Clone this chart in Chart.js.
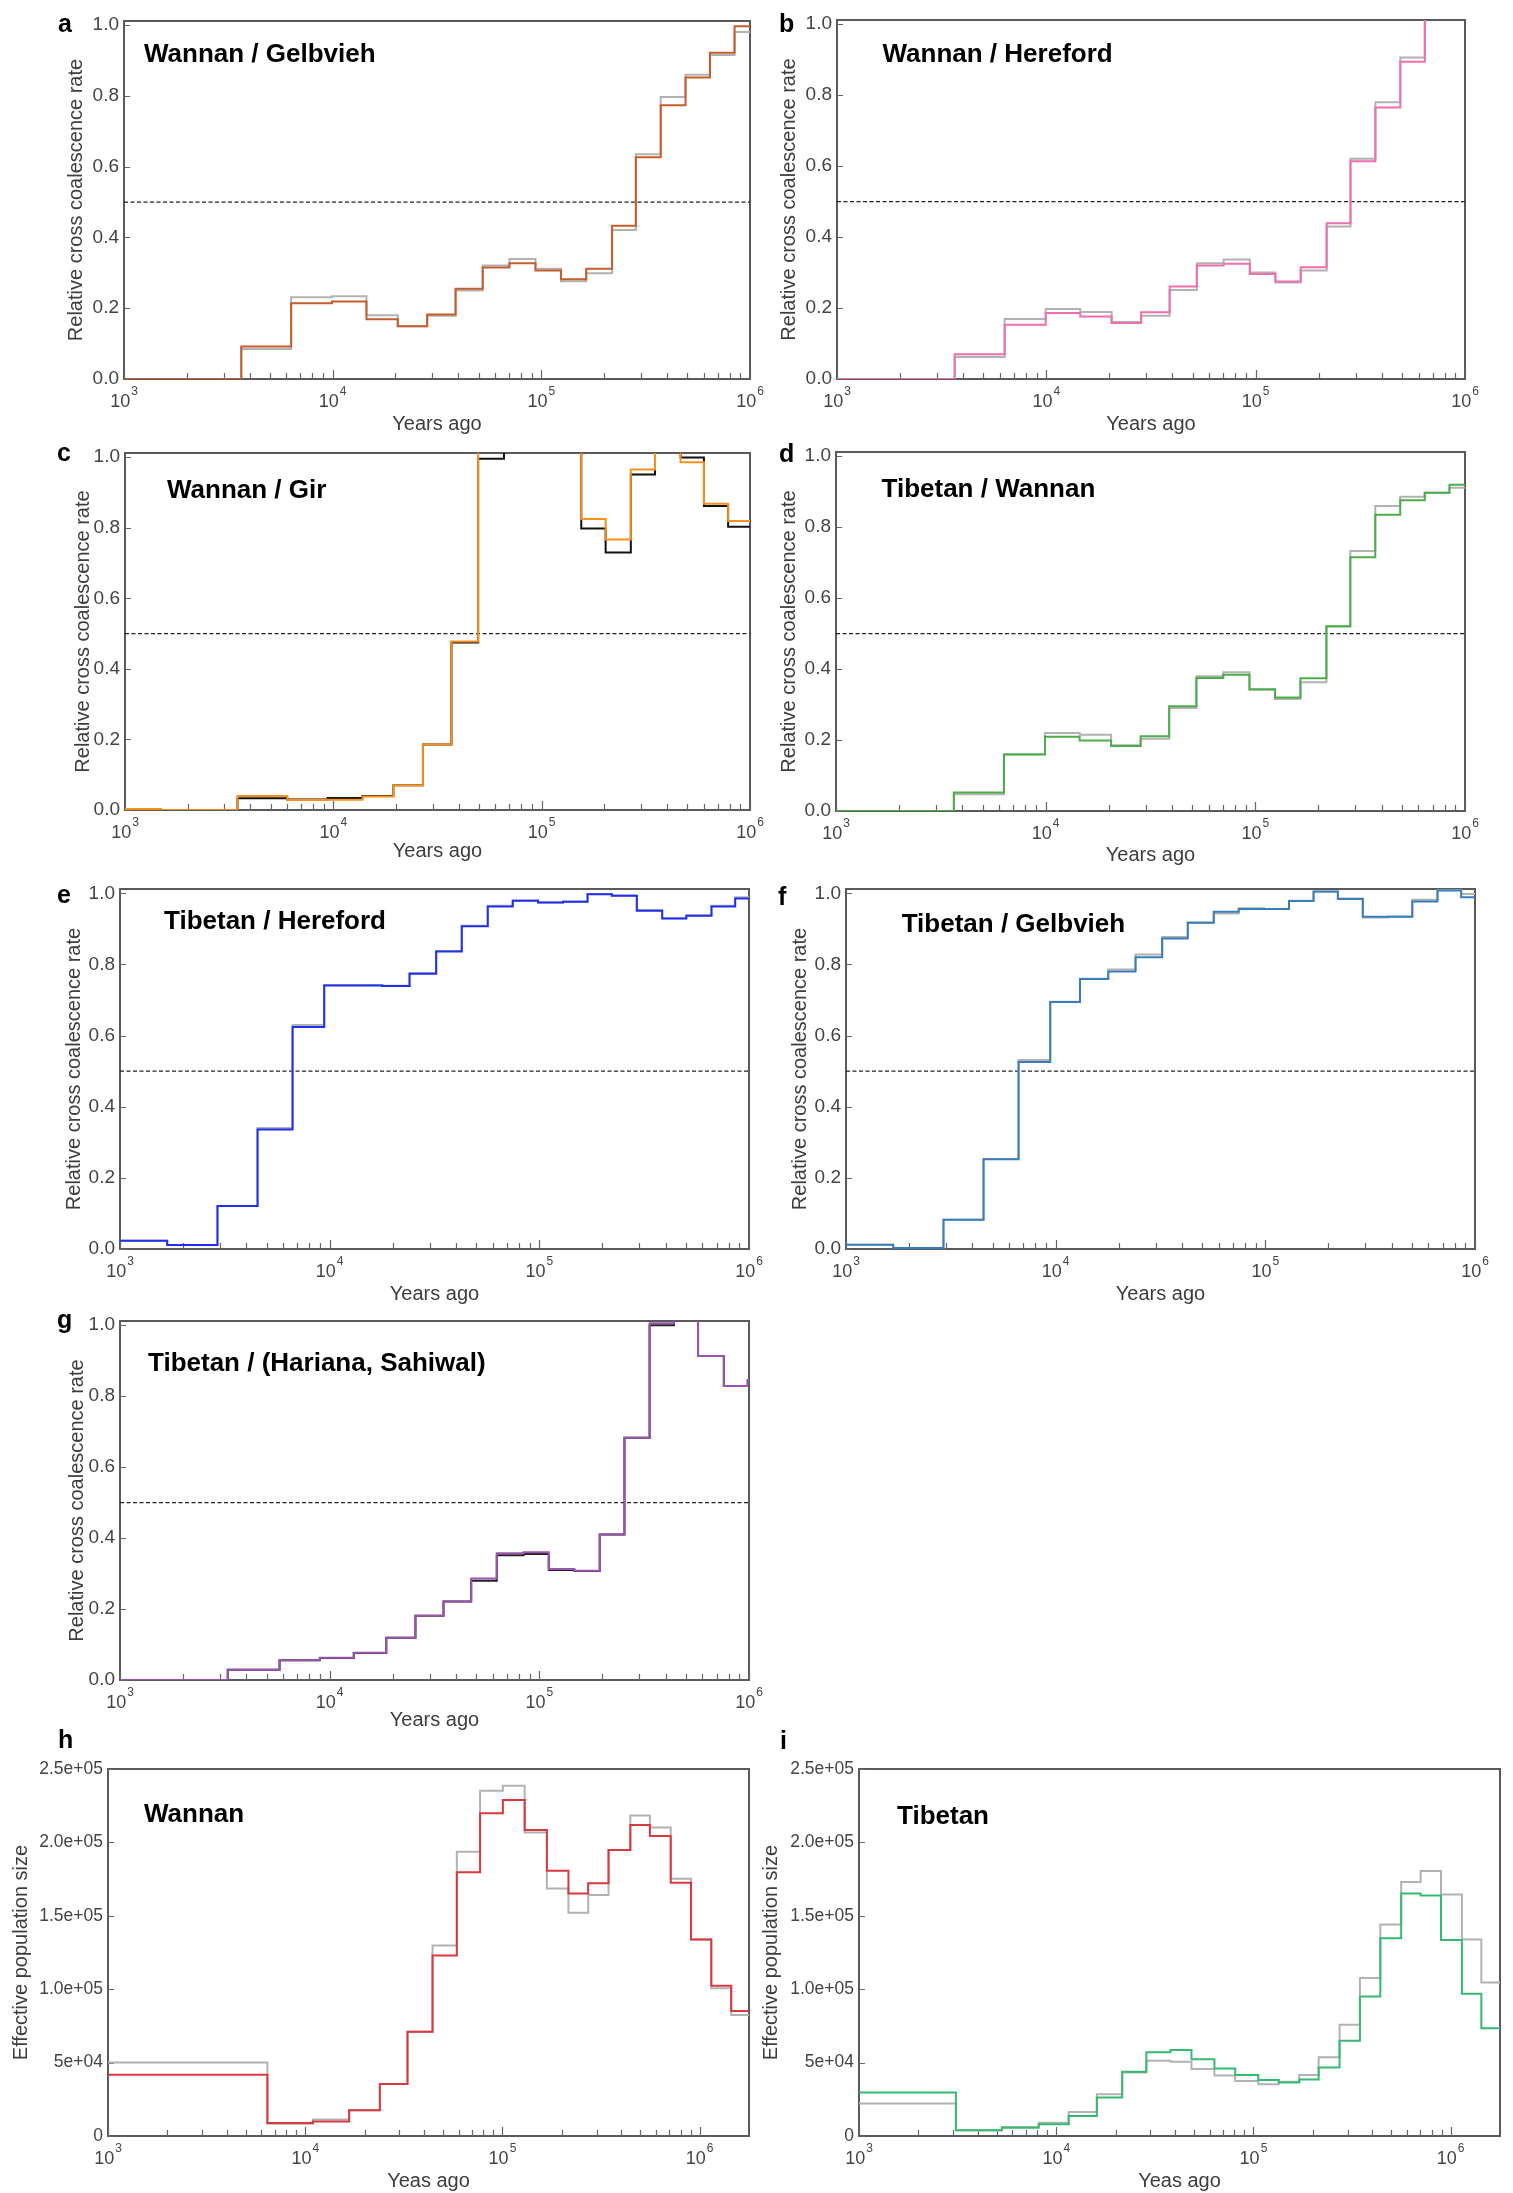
<!DOCTYPE html>
<html>
<head>
<meta charset="utf-8">
<script src="https://cdn.jsdelivr.net/npm/chart.js@4.4.0/dist/chart.umd.min.js"></script>
<style>
  html, body { margin: 0; padding: 0; background: #fff; overflow: hidden; width: 1513px; height: 2193px; }
  canvas { position: absolute; }
</style>
</head>
<body>
<script>
// ---------------- time bins (years ago): lower edge of each bin, last entry closes the final bin
const edgesAB = [1000, 3648, 6324, 9931, 14520, 20510, 28380, 38820, 52360, 70310, 93760, 124200, 164100, 218300, 283800, 373300, 490900, 642700, 843300, 1000000];
const edgesC  = [1000, 1490, 3467, 6012, 9380, 13800, 19410, 26920, 36900, 49550, 65920, 87000, 116000, 154900, 202800, 267900, 349900, 464500, 601000, 785200, 1000000];
const edgesEF = [1000, 1679, 2917, 4529, 6653, 9419, 13060, 17820, 24040, 32210, 42660, 56750, 74650, 98630, 129700, 169800, 221800, 291700, 385500, 502300, 662200, 859000, 1000000];
const edgesG  = [1000, 3266, 5768, 8974, 13030, 18620, 25650, 34910, 47320, 62660, 84140, 110900, 146900, 194100, 254700, 335700, 438500, 571500, 758600, 986300, 1000000];
const edgesH  = [1000, 6430, 10950, 16700, 23900, 33000, 44200, 58700, 77000, 100500, 129600, 168000, 216000, 272000, 345000, 445000, 559000, 713000, 904000, 1145000, 1445000, 1778279];
const edgesI  = [1000, 3100, 5300, 8150, 11570, 16070, 21600, 28640, 38000, 48500, 63400, 80800, 105800, 134400, 170800, 214000, 273300, 346600, 439700, 561000, 704000, 893000, 1140000, 1430000, 1778279];

// ---------------- relative cross coalescence rates
const wannanGelbvieh     = [0, 0.092, 0.214, 0.219, 0.169, 0.149, 0.182, 0.255, 0.315, 0.327, 0.307, 0.282, 0.312, 0.433, 0.627, 0.774, 0.852, 0.922, 0.997];
const wannanGelbviehAlt  = [0, 0.085, 0.231, 0.234, 0.180, 0.149, 0.179, 0.250, 0.321, 0.339, 0.312, 0.276, 0.299, 0.421, 0.635, 0.797, 0.860, 0.916, 0.981];
const wannanHereford     = [0, 0.070, 0.153, 0.186, 0.176, 0.158, 0.188, 0.261, 0.320, 0.325, 0.296, 0.275, 0.315, 0.439, 0.614, 0.765, 0.894, 1.06, 1.06];
const wannanHerefordAlt  = [0, 0.062, 0.169, 0.197, 0.189, 0.161, 0.178, 0.251, 0.326, 0.337, 0.300, 0.272, 0.306, 0.430, 0.621, 0.780, 0.906, 1.06, 1.06];
const wannanGir          = [0.003, 0, 0.040, 0.028, 0.029, 0.038, 0.070, 0.186, 0.478, 1.06, 1.08, 1.10, 1.07, 0.825, 0.767, 0.965, 1.04, 0.986, 0.868, 0.819];
const wannanGirAlt       = [0, 0, 0.033, 0.030, 0.034, 0.040, 0.070, 0.186, 0.475, 0.996, 1.07, 1.09, 1.06, 0.798, 0.730, 0.951, 1.03, 0.999, 0.862, 0.803];
const tibetanWannan      = [0, 0.052, 0.159, 0.209, 0.199, 0.183, 0.211, 0.295, 0.375, 0.384, 0.343, 0.320, 0.374, 0.521, 0.715, 0.835, 0.876, 0.897, 0.920];
const tibetanWannanAlt   = [0, 0.047, 0.160, 0.220, 0.215, 0.185, 0.204, 0.290, 0.380, 0.391, 0.342, 0.316, 0.363, 0.520, 0.733, 0.860, 0.886, 0.897, 0.911];
const tibetanHereford    = [0.023, 0.011, 0.121, 0.336, 0.624, 0.741, 0.741, 0.739, 0.774, 0.836, 0.907, 0.963, 0.979, 0.974, 0.976, 0.997, 0.993, 0.951, 0.929, 0.937, 0.963, 0.985];
const tibetanHerefordAlt = [0.023, 0.011, 0.121, 0.340, 0.630, 0.742, 0.742, 0.740, 0.776, 0.838, 0.909, 0.965, 0.980, 0.974, 0.977, 0.998, 0.994, 0.953, 0.930, 0.938, 0.965, 0.989];
const tibetanGelbvieh    = [0.012, 0.003, 0.082, 0.252, 0.526, 0.694, 0.759, 0.780, 0.820, 0.873, 0.917, 0.948, 0.956, 0.956, 0.978, 1.005, 0.984, 0.934, 0.934, 0.977, 1.008, 0.989];
const tibetanGelbviehAlt = [0.012, 0.003, 0.082, 0.253, 0.531, 0.695, 0.760, 0.786, 0.828, 0.877, 0.918, 0.943, 0.958, 0.956, 0.979, 1.004, 0.985, 0.932, 0.935, 0.982, 1.009, 0.998];
const tibetanIndicine    = [0, 0.029, 0.056, 0.063, 0.077, 0.119, 0.181, 0.221, 0.286, 0.357, 0.360, 0.313, 0.308, 0.410, 0.683, 1.006, 1.07, 0.913, 0.829, 0.846];
const tibetanIndicineAlt = [0, 0.029, 0.056, 0.062, 0.076, 0.119, 0.181, 0.221, 0.280, 0.352, 0.355, 0.310, 0.307, 0.410, 0.683, 1.000, 1.07, 0.913, 0.829, 0.846];

// ---------------- effective population size
const wannanNe     = [41700, 8900, 9800, 17500, 35500, 71100, 123000, 179600, 219900, 228800, 208500, 180700, 165200, 172100, 194900, 211900, 204400, 172500, 133800, 102300, 85200];
const wannanNeAlt  = [50100, 8400, 11200, 17500, 35500, 71100, 129700, 193700, 235200, 238600, 206700, 168600, 152000, 164100, 194900, 218300, 210100, 175300, 133800, 100700, 82500];
const tibetanNe    = [29600, 3900, 5700, 8000, 13700, 26200, 43800, 57000, 58600, 52200, 46000, 41500, 38100, 36500, 38500, 46700, 64900, 95000, 134700, 165200, 163900, 133600, 96900, 73400];
const tibetanNeAlt = [22100, 3900, 6200, 9100, 16400, 28500, 43300, 51300, 50600, 45600, 41200, 37400, 35300, 36900, 41500, 53600, 75700, 107600, 144000, 173000, 180500, 164500, 133800, 104600];

// ---------------- axis ticks
const rateTicks  = [0, 0.2, 0.4, 0.6, 0.8, 1.0];
const rateLabels = ['0.0', '0.2', '0.4', '0.6', '0.8', '1.0'];
const neTicks    = [0, 50000, 100000, 150000, 200000, 250000];
const neLabels   = ['0', '5e+04', '1.0e+05', '1.5e+05', '2.0e+05', '2.5e+05'];

// ---------------- drawing
const FONT = "'Liberation Sans', Arial, Helvetica, sans-serif";
const GRAY = '#b2b2b2';
const PAD = { l: 125, t: 60, r: 20, b: 75 };
Chart.defaults.font.family = FONT;

// each value holds from its own edge up to the next edge
function stepPoints(edges, values) {
  const pts = values.map((v, i) => ({ x: edges[i], y: v }));
  pts.push({ x: edges[edges.length - 1], y: values[values.length - 1] });
  return pts;
}

function logTickValues(max) {
  const out = [];
  for (let k = 3; Math.pow(10, k) <= max; k++) {
    for (let m = 1; m <= 9; m++) {
      const v = m * Math.pow(10, k);
      if (v <= max) out.push(v);
    }
  }
  return out;
}

const panels = [
  { letter: 'a', title: 'Wannan / Gelbvieh', box: { L: 124, T: 21, R: 750, B: 379 }, kind: 'rate',
    series: [{ edges: edgesAB, values: wannanGelbvieh, color: '#c55c2c' }, { edges: edgesAB, values: wannanGelbviehAlt, color: GRAY }],
    letterPos: [58, 32], titlePos: [144, 62], yTitleX: 82.4, xTitleY: 430 },
  { letter: 'b', title: 'Wannan / Hereford', box: { L: 837, T: 20, R: 1465, B: 379 }, kind: 'rate',
    series: [{ edges: edgesAB, values: wannanHereford, color: '#ef6eae' }, { edges: edgesAB, values: wannanHerefordAlt, color: GRAY }],
    letterPos: [779, 32], titlePos: [882.5, 62], yTitleX: 794.6, xTitleY: 430 },
  { letter: 'c', title: 'Wannan / Gir', box: { L: 125, T: 453, R: 750, B: 810 }, kind: 'rate',
    series: [{ edges: edgesC, values: wannanGir, color: '#f7901e' }, { edges: edgesC, values: wannanGirAlt, color: '#111111' }],
    letterPos: [57, 461], titlePos: [167, 498], yTitleX: 88.7, xTitleY: 857 },
  { letter: 'd', title: 'Tibetan / Wannan', box: { L: 836, T: 452, R: 1465, B: 811 }, kind: 'rate',
    series: [{ edges: edgesAB, values: tibetanWannan, color: '#4cad4a' }, { edges: edgesAB, values: tibetanWannanAlt, color: GRAY }],
    letterPos: [779, 462], titlePos: [881.5, 497], yTitleX: 794.6, xTitleY: 861 },
  { letter: 'e', title: 'Tibetan / Hereford', box: { L: 120, T: 889, R: 749, B: 1249 }, kind: 'rate',
    series: [{ edges: edgesEF, values: tibetanHereford, color: '#1f2ff0' }, { edges: edgesEF, values: tibetanHerefordAlt, color: GRAY }],
    letterPos: [57, 903], titlePos: [164, 929], yTitleX: 80, xTitleY: 1300 },
  { letter: 'f', title: 'Tibetan / Gelbvieh', box: { L: 846, T: 889, R: 1475, B: 1249 }, kind: 'rate',
    series: [{ edges: edgesEF, values: tibetanGelbvieh, color: '#3a7dbd' }, { edges: edgesEF, values: tibetanGelbviehAlt, color: GRAY }],
    letterPos: [778, 905], titlePos: [901.7, 932], yTitleX: 805.6, xTitleY: 1300 },
  { letter: 'g', title: 'Tibetan / (Hariana, Sahiwal)', box: { L: 120, T: 1321, R: 749, B: 1680 }, kind: 'rate',
    series: [{ edges: edgesG, values: tibetanIndicine, color: '#9b55b0' }, { edges: edgesG, values: tibetanIndicineAlt, color: '#222222' }],
    letterPos: [57, 1328], titlePos: [148, 1371], yTitleX: 83.4, xTitleY: 1726 },
  { letter: 'h', title: 'Wannan', box: { L: 108, T: 1769, R: 749, B: 2136 }, kind: 'ne',
    series: [{ edges: edgesH, values: wannanNe, color: '#d9383e' }, { edges: edgesH, values: wannanNeAlt, color: GRAY }],
    letterPos: [58, 1748], titlePos: [144, 1822], yTitleX: 26.7, xTitleY: 2187 },
  { letter: 'i', title: 'Tibetan', box: { L: 859, T: 1769, R: 1500, B: 2136 }, kind: 'ne',
    series: [{ edges: edgesI, values: tibetanNe, color: '#36b971' }, { edges: edgesI, values: tibetanNeAlt, color: GRAY }],
    letterPos: [780, 1749], titlePos: [897, 1824], yTitleX: 777, xTitleY: 2187 }
];

function buildPanel(p) {
  const isRate = p.kind === 'rate';
  const xMax = isRate ? 1e6 : Math.pow(10, 6.25);
  const yMax = isRate ? 1.012 : 250000;
  const yTicks = isRate ? rateTicks : neTicks;
  const yLabels = isRate ? rateLabels : neLabels;
  const yTitle = isRate ? 'Relative cross coalescence rate' : 'Effective population size';
  const xTitle = isRate ? 'Years ago' : 'Yeas ago';

  const w = p.box.R - p.box.L, h = p.box.B - p.box.T;
  const cw = w + PAD.l + PAD.r, ch = h + PAD.t + PAD.b;
  const cl = p.box.L - PAD.l, ct = p.box.T - PAD.t;
  const cv = document.createElement('canvas');
  cv.width = cw; cv.height = ch;
  Object.assign(cv.style, { left: cl + 'px', top: ct + 'px', width: cw + 'px', height: ch + 'px' });
  document.body.appendChild(cv);

  const datasets = p.series.map((s, i) => ({
    data: stepPoints(s.edges, s.values),
    borderColor: s.color, borderWidth: 2, stepped: 'before',
    pointRadius: 0, fill: false, order: i
  }));
  if (isRate) {
    datasets.push({
      data: [{ x: 1000, y: 0.5 }, { x: xMax, y: 0.5 }],
      borderColor: '#222', borderWidth: 1.2, borderDash: [4, 2.5],
      pointRadius: 0, fill: false, order: 10
    });
  }

  const decor = {
    id: 'decor',
    beforeDatasetsDraw(chart) {
      const { ctx, chartArea: a, scales: { x, y } } = chart;
      ctx.save();
      ctx.strokeStyle = '#5a5a5a';
      ctx.lineWidth = 2;
      ctx.strokeRect(a.left, a.top, a.right - a.left, a.bottom - a.top);
      ctx.strokeStyle = '#666';
      ctx.lineWidth = 1.2;
      ctx.beginPath();
      x.ticks.forEach(t => {
        const px = Math.round(x.getPixelForValue(t.value)) + 0.5;
        const dec = Math.abs(Math.log10(t.value) - Math.round(Math.log10(t.value))) < 1e-9;
        ctx.moveTo(px, a.bottom);
        ctx.lineTo(px, a.bottom - (dec ? 9 : 6));
      });
      y.ticks.forEach(t => {
        const py = Math.round(y.getPixelForValue(t.value)) + 0.5;
        ctx.moveTo(a.left, py);
        ctx.lineTo(a.left + 6, py);
      });
      ctx.stroke();
      ctx.restore();
    },
    afterDraw(chart) {
      const { ctx, chartArea: a, scales: { x } } = chart;
      ctx.save();
      // decade labels with superscript exponents
      ctx.fillStyle = '#444';
      ctx.textBaseline = 'alphabetic';
      ctx.textAlign = 'left';
      for (let k = 3; Math.pow(10, k) <= xMax; k++) {
        const px = x.getPixelForValue(Math.pow(10, k));
        ctx.font = `18px ${FONT}`;
        const wb = ctx.measureText('10').width;
        ctx.font = `12px ${FONT}`;
        const we = ctx.measureText(String(k)).width;
        const x0 = px - (wb + we + 1) / 2;
        ctx.font = `18px ${FONT}`;
        ctx.fillText('10', x0, a.bottom + 28);
        ctx.font = `12px ${FONT}`;
        ctx.fillText(String(k), x0 + wb + 1, a.bottom + 16);
      }
      // axis titles
      ctx.fillStyle = '#3d3d3d';
      ctx.font = `20px ${FONT}`;
      ctx.textAlign = 'center';
      ctx.fillText(xTitle, (a.left + a.right) / 2, p.xTitleY - ct);
      ctx.save();
      ctx.translate(p.yTitleX - cl, (a.top + a.bottom) / 2);
      ctx.rotate(-Math.PI / 2);
      ctx.fillText(yTitle, 0, 0);
      ctx.restore();
      // panel title and letter
      ctx.fillStyle = '#000';
      ctx.textAlign = 'left';
      ctx.font = `bold 26px ${FONT}`;
      ctx.fillText(p.title, p.titlePos[0] - cl, p.titlePos[1] - ct);
      ctx.font = `bold 25px ${FONT}`;
      ctx.fillText(p.letter, p.letterPos[0] - cl, p.letterPos[1] - ct);
      ctx.restore();
    }
  };

  new Chart(cv, {
    type: 'line',
    data: { datasets },
    options: {
      responsive: false,
      animation: false,
      devicePixelRatio: 1,
      layout: { padding: { left: 0, top: PAD.t, right: PAD.r, bottom: 0 } },
      plugins: { legend: { display: false }, tooltip: { enabled: false }, title: { display: false } },
      elements: { point: { radius: 0 }, line: { tension: 0 } },
      scales: {
        x: {
          type: 'logarithmic', min: 1000, max: xMax,
          grid: { display: false, drawTicks: false }, border: { display: false },
          ticks: { display: false },
          afterBuildTicks: s => { s.ticks = logTickValues(xMax).map(v => ({ value: v })); },
          afterFit: s => { s.height = PAD.b; }
        },
        y: {
          type: 'linear', min: 0, max: yMax,
          grid: { display: false, drawTicks: false }, border: { display: false },
          ticks: {
            padding: 5, color: '#444', autoSkip: false,
            font: { family: FONT, size: isRate ? 19 : 17.5 },
            callback: (v, i) => yLabels[i]
          },
          afterBuildTicks: s => { s.ticks = yTicks.map(v => ({ value: v })); },
          afterFit: s => { s.width = PAD.l; }
        }
      }
    },
    plugins: [decor]
  });
}

panels.forEach(buildPanel);
</script>
</body>
</html>
